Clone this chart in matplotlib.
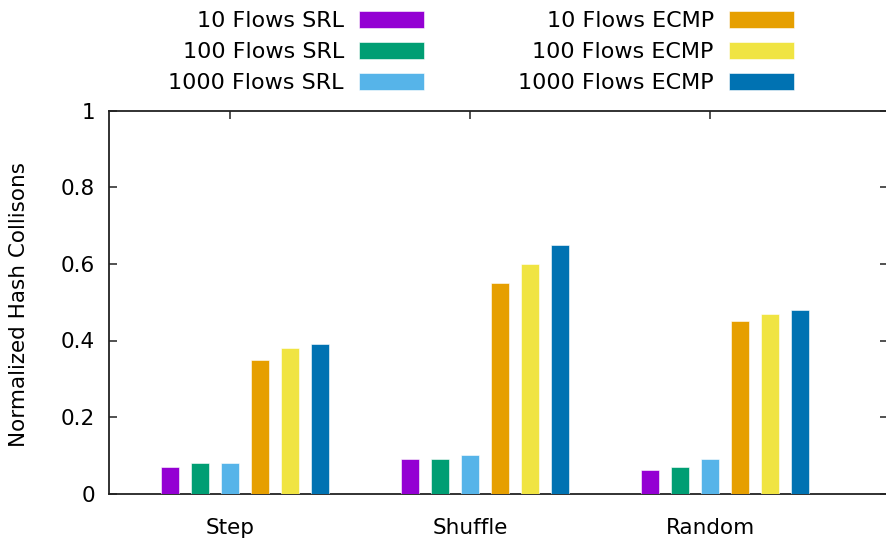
import numpy as np
import matplotlib
matplotlib.use("Agg")
from matplotlib import pyplot as plt

# data
patterns = ["Step", "Shuffle", "Random"]
series_labels = ["10 Flows SRL", "100 Flows SRL", "1000 Flows SRL",
                 "10 Flows ECMP", "100 Flows ECMP", "1000 Flows ECMP"]
srl_10 = [0.07, 0.09, 0.062]
srl_100 = [0.081, 0.09, 0.07]
srl_1000 = [0.081, 0.10, 0.09]
ecmp_10 = [0.35, 0.55, 0.45]
ecmp_100 = [0.38, 0.60, 0.47]
ecmp_1000 = [0.39, 0.65, 0.48]

colors = ["#9400d3", "#009e73", "#56b4e9", "#e69f00", "#f0e442", "#0072b2"]


def main():
  series = [srl_10, srl_100, srl_1000, ecmp_10, ecmp_100, ecmp_1000]
  W, H = 886, 547
  fig = plt.figure(figsize=(W / 100, H / 100), dpi=100)
  ax = fig.add_axes([109 / W, 1 - 493.5 / H, (888 - 109) / W, (493.5 - 111) / H])

  group = np.arange(len(patterns)) * 8
  handles = []
  for j, (vals, col, lab) in enumerate(zip(series, colors, series_labels)):
    h = ax.bar(group + j, vals, width=0.58, color=col, label=lab,
               edgecolor="white", linewidth=0.4, zorder=3)
    handles.append(h)

  ax.set_xlim(-2.03, 23.93)
  ax.set_ylim(0, 1)
  ax.set_xticks(group + 2)
  ax.set_xticklabels(patterns, fontsize=15.5)
  ax.set_yticks([0, 0.2, 0.4, 0.6, 0.8, 1])
  ax.set_yticklabels(["0", "0.2", "0.4", "0.6", "0.8", "1"], fontsize=15.5)
  ax.tick_params(axis="y", direction="in", length=6, width=1.2, color="#333333",
                 right=True, pad=10)
  ax.tick_params(axis="x", direction="in", length=6, width=1.2, color="#333333",
                 top=True, pad=18)
  for s in ax.spines.values():
    s.set_linewidth(1.3)
    s.set_color("#222222")

  ax.set_ylabel("Normalized Hash Collisons", fontsize=15.5)
  ax.yaxis.set_label_coords(-0.103, 0.495)

  fig.legend(handles=handles, loc="upper right", ncol=2, frameon=False,
             markerfirst=False, fontsize=16, handlelength=2.93,
             handleheight=0.77, columnspacing=4.23, labelspacing=0.5,
             handletextpad=0.68, borderpad=0.0,
             bbox_to_anchor=(805 / W, 1.0))

  fig.savefig("out.png", dpi=100)


if __name__ == "__main__":
  main()
